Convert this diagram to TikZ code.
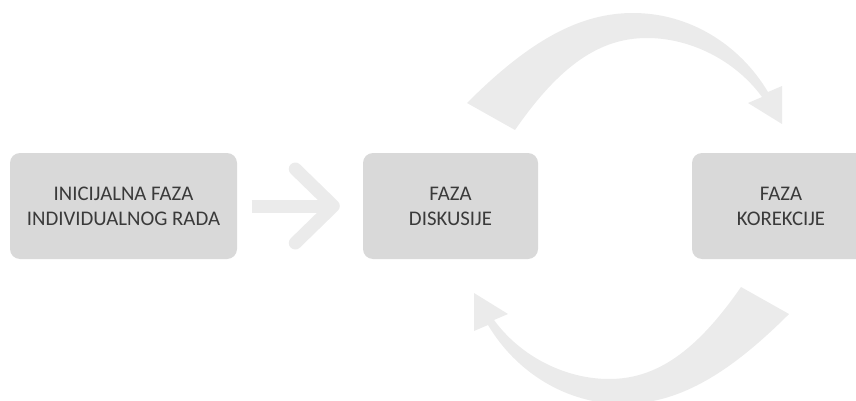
\documentclass[tikz,border=0pt]{standalone}
\usepackage{fontspec}
\setmainfont{Carlito}
\usetikzlibrary{calc}
\definecolor{boxgray}{HTML}{D9D9D9}
\definecolor{arrowgray}{HTML}{EBEBEB}
\definecolor{textgray}{HTML}{3A3A3A}

\newcommand\krivastrelica[1]{\fill[arrowgray,#1] (467,103)
	.. controls (530,40) and (580,13) .. (633,13)
	.. controls (690,13) and (740,45) .. (768,92)
	-- (782,86) -- (782,124) -- (748,103) -- (762,97)
	.. controls (735,60) and (690,38) .. (647,38)
	.. controls (600,38) and (560,65) .. (515,130) -- cycle;}

\begin{document}
\begin{tikzpicture}[x=1pt,y=-1pt,
	faza/.style={fill=boxgray,rounded corners=10pt,minimum height=106pt,align=center,
		text=textgray,font=\fontsize{20.8}{25}\selectfont},
	strelica/.style={draw=arrowgray,line width=13pt}]
\useasboundingbox (0,0) rectangle (856,401);
\node[faza,minimum width=227pt] (inicijalna) at (123.5,206) {INICIJALNA FAZA\\INDIVIDUALNOG RADA};
\node[faza,minimum width=175pt] (diskusija) at (450.5,206) {FAZA\\DISKUSIJE};
\node[faza,minimum width=178pt] (korekcija) at (781,206) {FAZA\\KOREKCIJE};
% ravna strelica
\coordinate (vrh) at ($(diskusija.west)+(-29.5,0)$);
\draw[strelica] ($(inicijalna.east)+(14.5,0)$) -- (vrh);
\draw[strelica,line cap=round,line join=round] ($(vrh)+(-38,-37)$) -- (vrh) -- ($(vrh)+(-38,37)$);
% zakrivljene strelice
\krivastrelica{}
\krivastrelica{rotate around={180:(628,208.5)}}
\end{tikzpicture}
\end{document}
